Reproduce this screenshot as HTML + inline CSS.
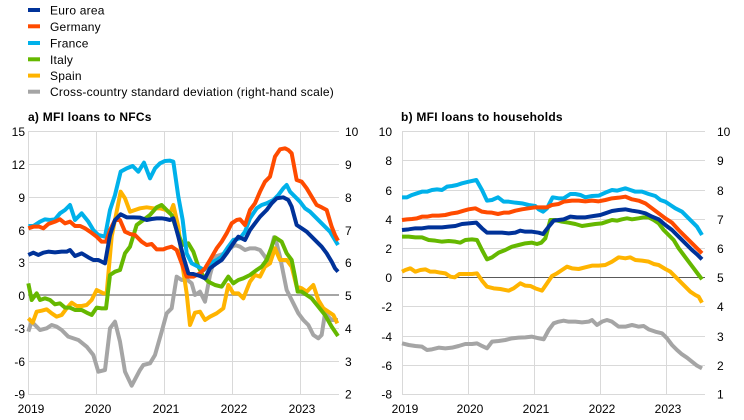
<!DOCTYPE html>
<html><head><meta charset="utf-8"><style>
html,body{margin:0;padding:0;background:#fff;}
svg{display:block;}
text{font-family:"Liberation Sans",Arial,sans-serif;font-size:12px;fill:#000;}
.b{font-weight:bold;letter-spacing:0.25px;}
.lg{letter-spacing:0.22px;}
</style></head><body>
<svg width="744" height="420" viewBox="0 0 744 420" xmlns="http://www.w3.org/2000/svg">
<!-- Legend -->
<g stroke-width="4">
<line x1="28" y1="10" x2="40" y2="10" stroke="#003299"/>
<line x1="28" y1="26.3" x2="40" y2="26.3" stroke="#FF4B00"/>
<line x1="28" y1="43" x2="40" y2="43" stroke="#00B1EA"/>
<line x1="28" y1="59.3" x2="40" y2="59.3" stroke="#65B800"/>
<line x1="28" y1="75.6" x2="40" y2="75.6" stroke="#FFB400"/>
<line x1="28" y1="91.7" x2="40" y2="91.7" stroke="#A5A5A5"/>
</g>
<text class="lg" x="50" y="14.5">Euro area</text>
<text class="lg" x="50" y="30.8">Germany</text>
<text class="lg" x="50" y="47.5">France</text>
<text class="lg" x="50" y="63.8">Italy</text>
<text class="lg" x="50" y="80">Spain</text>
<text class="lg" x="50" y="96.2">Cross-country standard deviation (right-hand scale)</text>

<text class="b" x="28" y="121">a) MFI loans to NFCs</text>
<text class="b" x="401" y="121">b) MFI loans to households</text>

<!-- Left chart grid -->
<g stroke="#D9D9D9" stroke-width="1">
<line x1="28" y1="131.5" x2="339" y2="131.5"/>
<line x1="28" y1="164.5" x2="339" y2="164.5"/>
<line x1="28" y1="197.5" x2="339" y2="197.5"/>
<line x1="28" y1="230.5" x2="339" y2="230.5"/>
<line x1="28" y1="262.5" x2="339" y2="262.5"/>
<line x1="28" y1="328.5" x2="339" y2="328.5"/>
<line x1="28" y1="361.5" x2="339" y2="361.5"/>
<line x1="28" y1="394.5" x2="339" y2="394.5"/>
<line x1="28.5" y1="131" x2="28.5" y2="395"/>
<line x1="96.5" y1="131" x2="96.5" y2="395"/>
<line x1="164.5" y1="131" x2="164.5" y2="395"/>
<line x1="232.5" y1="131" x2="232.5" y2="395"/>
<line x1="300.5" y1="131" x2="300.5" y2="395"/>
</g>
<line x1="28" y1="295" x2="339" y2="295" stroke="#A6A6A6" stroke-width="2"/>

<g text-anchor="end">
<text x="25" y="136">15</text>
<text x="25" y="169">12</text>
<text x="25" y="202">9</text>
<text x="25" y="235">6</text>
<text x="25" y="267">3</text>
<text x="25" y="300">0</text>
<text x="25" y="333">-3</text>
<text x="25" y="366">-6</text>
<text x="25" y="398.5">-9</text>
</g>
<g>
<text x="345" y="136">10</text>
<text x="345" y="169">9</text>
<text x="345" y="202">8</text>
<text x="345" y="235">7</text>
<text x="345" y="267">6</text>
<text x="345" y="300">5</text>
<text x="345" y="333">4</text>
<text x="345" y="366">3</text>
<text x="345" y="398.5">2</text>
</g>
<g text-anchor="middle">
<text x="31" y="413">2019</text>
<text x="98" y="413">2020</text>
<text x="166" y="413">2021</text>
<text x="234" y="413">2022</text>
<text x="302" y="413">2023</text>
</g>

<!-- Left chart series (zoom coords) -->
<g transform="translate(0,120) scale(0.33333)" fill="none" stroke-width="12" stroke-linejoin="round" stroke-linecap="butt">
<polyline stroke="#A5A5A5" points="85,635 95,605 120,630 140,625 155,615 170,620 185,630 205,650 235,660 260,680 280,705 295,755 315,750 330,625 345,605 360,665 375,755 395,797 420,750 430,735 450,730 465,705 485,635 500,580 515,565 530,470 545,480 560,478 575,490 585,525 600,515 615,545 630,465 645,410 660,405 675,400 690,385 705,375 720,380 735,390 750,385 765,385 780,390 795,410 805,430 815,380 822,352 830,370 840,410 850,460 860,510 870,530 880,550 895,580 910,600 925,615 940,645 955,655 965,645 975,580 985,590 995,600 1014,600"/>
<polyline stroke="#FFB400" points="85,595 98,608 110,575 125,572 140,568 155,580 170,590 185,585 200,565 215,548 230,558 245,558 260,555 275,540 290,510 310,520 320,520 335,350 350,275 362,215 375,235 390,275 405,270 420,265 440,262 460,265 480,265 498,270 510,280 520,255 535,320 548,440 560,520 570,615 585,578 600,575 615,600 630,590 650,580 670,565 685,495 700,520 715,520 730,535 750,485 765,465 780,470 795,440 810,430 825,385 840,420 860,420 875,440 890,500 905,505 920,515 940,495 955,540 970,565 985,575 1000,585 1012,610"/>
<polyline stroke="#65B800" points="85,490 95,540 110,520 120,540 135,535 150,540 165,553 180,550 195,563 210,563 225,570 245,570 260,578 275,585 290,563 305,565 318,565 330,465 345,455 360,450 375,400 390,380 410,315 430,300 450,285 470,262 485,255 500,270 515,285 530,330 548,375 565,370 580,395 595,440 610,470 625,485 645,495 665,500 685,470 700,490 715,480 730,475 750,465 770,450 785,440 800,420 815,380 825,352 845,365 860,400 875,420 885,470 893,515 905,515 920,525 935,535 955,560 975,585 995,620 1014,648"/>
<polyline stroke="#00B1EA" points="85,318 100,318 120,305 135,298 150,300 165,298 180,280 195,270 210,255 225,300 245,280 265,305 280,330 295,345 315,350 330,270 345,225 362,155 380,145 398,138 415,155 432,128 450,175 465,145 480,130 495,123 510,122 520,125 535,230 548,300 560,400 575,430 595,440 612,450 630,430 650,420 665,410 685,380 700,360 720,355 735,335 750,295 770,265 785,255 800,250 820,240 835,225 850,205 860,195 870,215 885,230 900,245 915,265 930,275 945,290 960,305 975,320 990,335 1005,360 1014,375"/>
<polyline stroke="#FF4B00" points="85,325 100,320 118,320 130,325 145,312 165,305 180,298 195,310 210,305 225,318 240,318 255,325 270,335 290,350 305,365 318,365 330,330 345,300 360,300 375,335 390,342 405,345 425,365 440,375 455,372 470,388 490,388 500,384 515,380 530,390 545,430 560,470 580,470 600,460 615,445 630,420 650,385 665,365 680,340 695,310 710,300 720,298 735,315 750,270 765,250 780,215 795,185 810,170 825,110 840,88 855,85 865,90 875,100 890,180 905,185 920,205 935,230 950,255 965,262 980,270 995,320 1005,345 1014,362"/>
<polyline stroke="#003299" points="85,405 100,398 115,405 130,398 145,395 165,397 185,395 200,395 210,390 225,408 245,400 265,412 280,420 295,420 315,430 330,345 345,300 362,283 380,292 400,292 420,293 440,300 455,297 470,295 485,295 498,297 510,300 520,295 535,350 550,410 565,460 580,462 600,468 615,475 630,445 650,430 665,420 680,400 700,370 715,350 735,360 750,330 765,310 780,290 800,270 815,250 830,235 850,232 865,240 875,260 890,315 905,325 920,335 935,350 950,365 965,380 980,400 995,425 1005,445 1014,455"/>
</g>

<!-- Right chart grid -->
<g stroke="#D9D9D9" stroke-width="1">
<line x1="402" y1="131.5" x2="705" y2="131.5"/>
<line x1="402" y1="160.5" x2="705" y2="160.5"/>
<line x1="402" y1="190.5" x2="705" y2="190.5"/>
<line x1="402" y1="219.5" x2="705" y2="219.5"/>
<line x1="402" y1="248.5" x2="705" y2="248.5"/>
<line x1="402" y1="306.5" x2="705" y2="306.5"/>
<line x1="402" y1="336.5" x2="705" y2="336.5"/>
<line x1="402" y1="365.5" x2="705" y2="365.5"/>
<line x1="402" y1="394.5" x2="705" y2="394.5"/>
<line x1="402.5" y1="131" x2="402.5" y2="395"/>
<line x1="468.5" y1="131" x2="468.5" y2="395"/>
<line x1="534.5" y1="131" x2="534.5" y2="395"/>
<line x1="600.5" y1="131" x2="600.5" y2="395"/>
<line x1="666.5" y1="131" x2="666.5" y2="395"/>
</g>
<line x1="402" y1="277.5" x2="705" y2="277.5" stroke="#595959" stroke-width="1"/>

<g text-anchor="end">
<text x="392" y="136">10</text>
<text x="392" y="165">8</text>
<text x="392" y="195">6</text>
<text x="392" y="224">4</text>
<text x="392" y="253">2</text>
<text x="392" y="282">0</text>
<text x="392" y="311">-2</text>
<text x="392" y="341">-4</text>
<text x="392" y="370">-6</text>
<text x="392" y="398.5">-8</text>
</g>
<g>
<text x="717" y="136">10</text>
<text x="717" y="165">9</text>
<text x="717" y="195">8</text>
<text x="717" y="224">7</text>
<text x="717" y="253">6</text>
<text x="717" y="282">5</text>
<text x="717" y="311">4</text>
<text x="717" y="341">3</text>
<text x="717" y="370">2</text>
<text x="717" y="398.5">1</text>
</g>
<g text-anchor="middle">
<text x="405" y="413">2019</text>
<text x="470" y="413">2020</text>
<text x="536" y="413">2021</text>
<text x="602" y="413">2022</text>
<text x="668" y="413">2023</text>
</g>

<!-- Right chart series (zoom coords) -->
<g transform="translate(372,120) scale(0.33333)" fill="none" stroke-width="12" stroke-linejoin="round" stroke-linecap="butt">
<polyline stroke="#A5A5A5" points="90,670 110,675 130,678 150,680 165,690 180,688 200,683 220,685 240,683 260,678 280,672 300,672 315,670 330,678 345,685 360,665 380,663 400,660 420,655 440,653 460,652 480,650 500,655 515,658 530,630 545,610 560,605 575,602 590,605 610,605 630,607 650,605 660,600 675,615 690,605 705,600 720,605 740,620 760,620 780,615 800,620 815,618 830,628 850,635 870,640 885,655 900,675 915,690 930,703 945,713 960,725 975,737 990,745"/>
<polyline stroke="#FFB400" points="90,455 100,450 115,445 130,455 145,450 160,448 175,455 190,455 205,458 220,460 235,470 248,472 262,462 280,462 300,462 315,460 330,482 345,500 365,505 385,507 410,512 425,505 445,490 460,497 475,498 490,505 510,512 525,490 540,468 555,460 570,450 585,440 600,445 620,447 640,442 660,437 680,437 700,435 720,425 740,412 760,415 775,412 790,420 810,422 830,425 845,432 860,435 880,447 895,455 910,470 925,485 940,500 955,515 970,525 980,530 990,548"/>
<polyline stroke="#65B800" points="90,350 110,350 130,352 150,352 170,360 190,362 210,365 230,363 250,365 265,368 280,360 300,358 315,360 330,390 345,418 360,412 380,398 400,390 420,380 440,375 460,370 480,368 495,372 508,368 520,355 535,300 550,300 570,305 590,308 610,312 630,318 650,315 670,312 690,310 705,305 720,300 735,302 750,298 765,295 780,298 800,295 815,292 830,292 845,300 860,310 875,330 890,345 905,360 920,385 935,405 950,425 965,445 980,465 990,478"/>
<polyline stroke="#00B1EA" points="90,232 105,232 120,225 135,220 150,215 165,215 180,210 195,208 210,210 225,200 240,198 255,195 270,190 290,185 313,180 330,210 345,242 360,240 378,232 395,245 410,245 430,248 450,250 470,255 490,258 500,268 513,275 525,265 542,232 560,235 575,235 595,222 610,222 625,225 640,232 660,228 680,227 700,218 720,210 735,212 760,205 775,210 790,215 810,215 830,222 850,228 865,240 880,245 895,255 910,265 930,275 945,290 960,305 975,320 990,345"/>
<polyline stroke="#FF4B00" points="90,300 105,298 120,297 135,295 150,290 165,290 180,287 200,287 220,285 240,280 255,278 275,272 290,268 310,265 330,275 345,277 360,278 378,282 395,278 410,278 430,272 450,268 470,265 490,262 510,262 525,262 540,255 560,252 575,245 600,242 620,242 640,244 660,242 680,244 700,240 720,235 740,233 760,230 780,238 800,242 820,250 840,265 860,280 880,295 900,308 920,330 940,350 960,370 975,385 990,400"/>
<polyline stroke="#003299" points="90,330 110,328 130,325 150,325 170,322 190,322 210,322 230,320 250,318 270,312 290,310 313,308 330,325 345,338 365,338 390,338 410,340 430,338 445,332 460,335 480,335 500,338 513,342 530,320 545,302 560,300 575,298 595,290 615,292 640,292 665,288 685,285 700,280 720,273 740,270 760,268 780,272 800,275 820,280 840,290 860,298 880,315 900,330 920,350 940,370 960,390 975,403 990,418"/>
</g>
</svg>
</body></html>
